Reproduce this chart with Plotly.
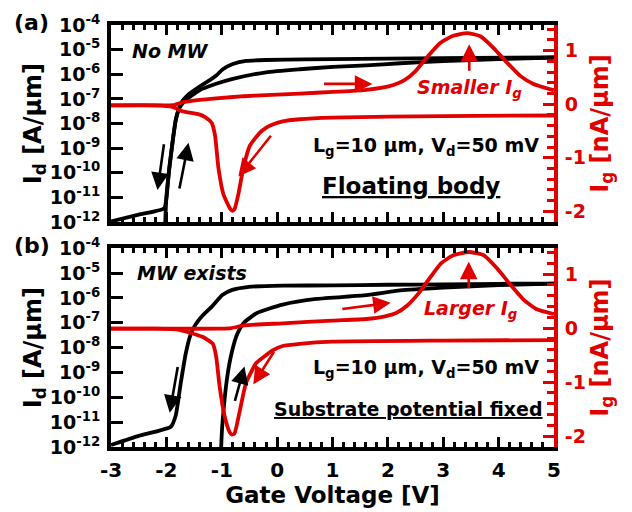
import plotly.graph_objects as go

# ---------------- data ----------------
# Panel (a): floating body, no memory window
a_rev_v = [-3, -2.5, -2.04, -2.0, -1.95, -1.89, -1.83, -1.74, -1.59, -1.4, -1.23, -1.1, -0.98, -0.8, -0.56, -0.2, 0.5, 1.5, 2.5, 3.5, 5]
a_rev_id = [1.07e-12, 2.0e-12, 3.6e-12, 9.1e-12, 1.3e-10, 1.6e-9, 1.4e-8, 6.5e-8, 1.6e-7, 3.2e-7, 5.5e-7, 8.9e-7, 1.6e-6, 2.6e-6, 3.5e-6, 3.8e-6, 4.0e-6, 4.2e-6, 4.4e-6, 4.6e-6, 4.8e-6]
a_fwd_v = [-2.03, -2.02, -2.0, -1.95, -1.89, -1.83, -1.76, -1.65, -1.41, -1.1, -0.8, -0.2, 0.41, 1.01, 1.61, 2.22, 3.0, 4.0, 5.0]
a_fwd_id = [1e-13, 1e-12, 1e-11, 1.4e-10, 1.7e-9, 1.4e-8, 4.5e-8, 8.9e-8, 2.2e-7, 4.1e-7, 6.5e-7, 1.2e-6, 1.6e-6, 2.0e-6, 2.3e-6, 2.8e-6, 3.4e-6, 4.1e-6, 4.8e-6]
a_ig_fwd_v = [-3, -2.5, -2.0, -1.85, -1.71, -1.4, -1.1, -0.6, -0.2, 0.41, 1.01, 1.61, 1.9, 2.1, 2.3, 2.5, 2.70, 2.94, 3.18, 3.43, 3.67, 3.91, 4.15, 4.39, 4.63, 5.0]
a_ig_fwd = [-0.02, -0.02, -0.02, -0.01, 0.036, 0.08, 0.11, 0.15, 0.17, 0.2, 0.23, 0.27, 0.31, 0.36, 0.45, 0.62, 0.87, 1.14, 1.28, 1.33, 1.27, 1.05, 0.78, 0.53, 0.38, 0.26]
a_ig_rev_v = [5.0, 3.0, 1.0, 0.41, 0.1, -0.08, -0.2, -0.31, -0.49, -0.61, -0.70, -0.77, -0.81, -0.85, -0.97, -1.06, -1.12, -1.18, -1.3, -1.41, -1.71, -1.89, -2.2, -3]
a_ig_rev = [-0.21, -0.22, -0.25, -0.28, -0.32, -0.38, -0.44, -0.53, -0.77, -1.19, -1.68, -1.96, -1.99, -1.95, -1.68, -1.19, -0.59, -0.35, -0.24, -0.19, -0.13, -0.05, -0.02, -0.02]

# Panel (b): substrate potential fixed, memory window exists
b_rev_v = [-3, -2.5, -1.92, -1.83, -1.74, -1.65, -1.56, -1.47, -1.35, -1.17, -0.99, -0.81, -0.51, 0.10, 1.0, 2.0, 3.0, 4.0, 5.0]
b_rev_id = [1.2e-12, 2.8e-12, 6.5e-12, 1.9e-11, 3.8e-10, 5.8e-9, 3.5e-8, 8.7e-8, 1.9e-7, 4.7e-7, 1.3e-6, 2.1e-6, 2.8e-6, 3.1e-6, 3.2e-6, 3.4e-6, 3.5e-6, 3.7e-6, 3.8e-6]
b_fwd_v = [-1.02, -1.01, -0.99, -0.90, -0.81, -0.72, -0.60, -0.36, 0.10, 0.71, 1.61, 2.22, 3.0, 4.0, 5.0]
b_fwd_id = [1e-13, 1e-12, 7.4e-12, 6.9e-10, 7.8e-9, 3.5e-8, 1.0e-7, 2.5e-7, 5.4e-7, 9.1e-7, 1.3e-6, 2.0e-6, 2.6e-6, 3.3e-6, 3.8e-6]
b_ig_fwd_v = [-3, -2.0, -1.0, -0.83, -0.6, 0.1, 1.0, 1.61, 1.95, 2.15, 2.35, 2.55, 2.75, 2.96, 3.18, 3.46, 3.73, 3.97, 4.21, 4.45, 4.69, 5.0]
b_ig_fwd = [-0.01, -0.01, -0.01, 0.0, 0.05, 0.09, 0.14, 0.17, 0.22, 0.28, 0.42, 0.64, 0.92, 1.2, 1.35, 1.41, 1.35, 1.11, 0.81, 0.53, 0.35, 0.26]
b_ig_rev_v = [5.0, 3.0, 1.0, 0.41, 0.1, -0.08, -0.2, -0.38, -0.56, -0.68, -0.77, -0.82, -0.86, -0.95, -1.04, -1.1, -1.16, -1.35, -1.62, -1.77, -2.2, -3]
b_ig_rev = [-0.22, -0.23, -0.25, -0.29, -0.33, -0.41, -0.5, -0.65, -1.01, -1.56, -1.95, -1.97, -1.92, -1.62, -1.07, -0.53, -0.29, -0.16, -0.07, -0.03, -0.01, -0.01]

# tick labels
x_ticks = [-3, -2, -1, 0, 1, 2, 3, 4, 5]
x_ticktext = ["-3", "-2", "-1", "0", "1", "2", "3", "4", "5"]
id_exps = [-12, -11, -10, -9, -8, -7, -6, -5, -4]
id_ticktext = ["10<sup>%d</sup>" % e for e in id_exps]
ig_ticks = [-2, -1, 0, 1]
ig_ticktext = ["-2", "-1", "0", "1"]

FONT = "DejaVu Sans"
RED = "#e00000"
BLACK = "#000000"

# plot-area geometry (pixels)
W, H = 632, 512
ML, MR, MT, MB = 111, 78, 20, 59

fig = go.Figure()


def line(x, y, color, xa, ya):
    fig.add_trace(go.Scatter(x=x, y=y, mode="lines", xaxis=xa, yaxis=ya,
                             line=dict(color=color, width=3.8, shape="spline", smoothing=0.5),
                             showlegend=False, hoverinfo="skip"))


# panel a
line(a_rev_v, a_rev_id, BLACK, "x", "y")
line(a_fwd_v, a_fwd_id, BLACK, "x", "y")
line(a_ig_fwd_v, a_ig_fwd, RED, "x", "y2")
line(a_ig_rev_v, a_ig_rev, RED, "x", "y2")
# panel b
line(b_rev_v, b_rev_id, BLACK, "x2", "y3")
line(b_fwd_v, b_fwd_id, BLACK, "x2", "y3")
line(b_ig_fwd_v, b_ig_fwd, RED, "x2", "y4")
line(b_ig_rev_v, b_ig_rev, RED, "x2", "y4")

dom_a = [0.533, 1.0]
dom_b = [0.0, 0.471]


def xaxis(anchor, labels, title=None):
    d = dict(anchor=anchor, range=[-3, 5], tickvals=x_ticks, ticktext=x_ticktext, showticklabels=labels,
             ticks="inside", ticklen=10, tickwidth=3, tickcolor=BLACK,
             showline=True, linecolor=BLACK, linewidth=4, mirror="ticks",
             showgrid=False, zeroline=False, ticklabelstandoff=2,
             tickfont=dict(family=FONT, size=20, color=BLACK, weight="bold"),
             minor=dict(dtick=0.2, ticks="inside", ticklen=5, tickwidth=2.5, tickcolor=BLACK, showgrid=False))
    if title:
        d["title"] = dict(text=title, font=dict(family=FONT, size=23, color=BLACK, weight="bold"), standoff=2)
    return d


def ylog(domain, anchor):
    return dict(domain=domain, anchor=anchor, type="log", range=[-12, -4],
                tickvals=[10.0 ** e for e in id_exps], ticktext=id_ticktext,
                ticks="inside", ticklen=12, tickwidth=3, tickcolor=BLACK,
                showline=True, linecolor=BLACK, linewidth=4, mirror=False,
                showgrid=False, zeroline=False, ticklabelstandoff=3,
                tickfont=dict(family=FONT, size=19, color=BLACK, weight="bold"),
                title=dict(text="I<sub>d</sub> [A/μm]", font=dict(family=FONT, size=24, color=BLACK, weight="bold"), standoff=1))


def ylin(overlay, anchor):
    return dict(overlaying=overlay, anchor=anchor, side="right", range=[-2.2, 1.48],
                tickvals=ig_ticks, ticktext=ig_ticktext, ticks="inside", ticklen=11, tickwidth=3, tickcolor=RED,
                showline=True, linecolor=RED, linewidth=4,
                showgrid=False, zeroline=False, ticklabelstandoff=3,
                tickfont=dict(family=FONT, size=19, color=RED, weight="bold"),
                minor=dict(dtick=0.2, ticks="inside", ticklen=7, tickwidth=2.5, tickcolor=RED, showgrid=False),
                title=dict(text="I<sub>g</sub> [nA/μm]", font=dict(family=FONT, size=24, color=RED, weight="bold"), standoff=2))


annotations = []


def arrow(x, y, ax, ay, xr, yr, color):
    annotations.append(dict(x=x, y=y, ax=ax, ay=ay, xref=xr, yref=yr, axref=xr, ayref=yr,
                            text="", showarrow=True, arrowhead=2, arrowsize=1.35, arrowwidth=2.6,
                            arrowcolor=color))


def label(text, x, y, xr, yr, size, color, italic=False, under=False, xanchor="center"):
    f = dict(family=FONT, size=size, color=color, weight="bold")
    if italic:
        f["style"] = "italic"
    if under:
        f["lineposition"] = "under"
    annotations.append(dict(text=text, x=x, y=y, xref=xr, yref=yr, showarrow=False,
                            font=f, xanchor=xanchor, yanchor="middle"))


# panel a arrows (black ones on log axis -> log10 coordinates)
arrow(-2.16, -10.7, -2.04, -8.78, "x", "y", BLACK)
arrow(-1.60, -8.78, -1.77, -10.7, "x", "y", BLACK)
arrow(1.72, 0.38, 0.82, 0.38, "x", "y2", RED)
arrow(-0.70, -1.35, -0.09, -0.56, "x", "y2", RED)
arrow(3.47, 1.12, 3.47, 0.6, "x", "y2", RED)
# panel b arrows
arrow(-1.94, -10.62, -1.79, -8.72, "x2", "y3", BLACK)
arrow(-0.59, -8.76, -0.77, -10.2, "x2", "y3", BLACK)
arrow(2.05, 0.47, 1.15, 0.35, "x2", "y4", RED)
arrow(-0.43, -1.04, -0.04, -0.41, "x2", "y4", RED)
arrow(3.46, 1.23, 3.46, 0.71, "x2", "y4", RED)

# texts
label("No MW", -2.66, 0.99, "x", "y2", 19, BLACK, italic=True, xanchor="left")
label("Smaller I<sub>g</sub>", 3.48, 0.3, "x", "y2", 19, RED, italic=True)
label("L<sub>g</sub>=10 μm, V<sub>d</sub>=50 mV", 2.68, -0.79, "x", "y2", 19, BLACK)
label("Floating body", 2.42, -1.52, "x", "y2", 23, BLACK, under=True)
label("MW exists", -2.57, 1.02, "x2", "y4", 19, BLACK, italic=True, xanchor="left")
label("Larger I<sub>g</sub>", 3.5, 0.35, "x2", "y4", 19, RED, italic=True)
label("L<sub>g</sub>=10 μm, V<sub>d</sub>=50 mV", 2.68, -0.75, "x2", "y4", 19, BLACK)
label("Substrate potential fixed", 2.37, -1.49, "x2", "y4", 19, BLACK, under=True)

# panel letters
pw, ph = W - ML - MR, H - MT - MB
for txt, ypx in (("(a)", 17), ("(b)", 246)):
    annotations.append(dict(text=txt, x=(12 - ML) / pw, y=(H - MB - ypx) / ph, xref="paper", yref="paper",
                            showarrow=False, xanchor="left", yanchor="middle",
                            font=dict(family=FONT, size=22, color=BLACK, weight="bold")))

fig.update_layout(
    width=W, height=H,
    margin=dict(l=ML, r=MR, t=MT, b=MB),
    plot_bgcolor="white", paper_bgcolor="white",
    xaxis=xaxis("y", False),
    yaxis=ylog(dom_a, "x"),
    yaxis2=ylin("y", "x"),
    xaxis2=xaxis("y3", True, "Gate Voltage [V]"),
    yaxis3=ylog(dom_b, "x2"),
    yaxis4=ylin("y3", "x2"),
    annotations=annotations,
)

fig.write_html("out.html")
